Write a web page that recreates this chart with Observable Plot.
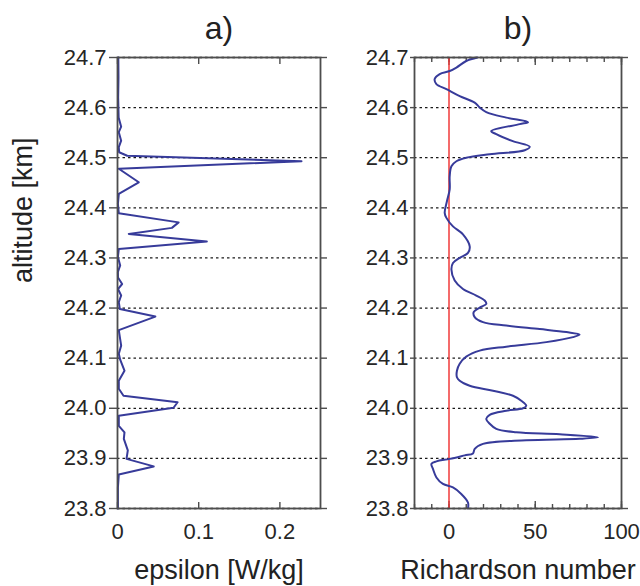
<!DOCTYPE html>
<html>
<head>
<meta charset="utf-8">
<script src="https://cdn.jsdelivr.net/npm/d3@7"></script>
<script src="https://cdn.jsdelivr.net/npm/@observablehq/plot@0.6"></script>
<style>
  html, body { margin: 0; padding: 0; background: #fff; }
  #wrap { position: relative; width: 640px; height: 586px; overflow: hidden; background: #fff; }
  #pa, #pb { position: absolute; top: 0; }
  #pa { left: 0; }
  #pb { left: 330px; }
</style>
</head>
<body>
<div id="wrap"><div id="pa"></div><div id="pb"></div></div>
<script>
// ---- data ----
const panelTitles = ["a)", "b)"];
const xLabels = ["epsilon [W/kg]", "Richardson number"];
const yLabel = "altitude [km]";
const yTicks = [23.8, 23.9, 24.0, 24.1, 24.2, 24.3, 24.4, 24.5, 24.6, 24.7];
const epsTicks = [0, 0.1, 0.2];
const riTicks = [0, 50, 100];
const riMinorTicks = [-20, -10, 0, 10, 20, 30, 40, 50, 60, 70, 80, 90, 100];

const epsAlt = [24.70, 24.66, 24.62, 24.58, 24.562, 24.551, 24.534, 24.521, 24.511, 24.504,
  24.493, 24.478, 24.451, 24.428, 24.408, 24.389, 24.371, 24.36, 24.348, 24.333,
  24.318, 24.302, 24.285, 24.272, 24.261, 24.248, 24.238, 24.225, 24.212, 24.198,
  24.183, 24.156, 24.142, 24.125, 24.109, 24.097, 24.075, 24.055, 24.039, 24.025,
  24.012, 24.001, 23.985, 23.965, 23.952, 23.939, 23.916, 23.899, 23.884, 23.868,
  23.842, 23.80];
const epsVal = [0.001, 0.0012, 0.0008, 0.0014, 0.0045, 0.0016, 0.0045, 0.0016, 0.002, 0.012,
  0.2266, 0.0016, 0.0262, 0.0016, 0.0005, 0.0016, 0.0753, 0.067, 0.0139, 0.110,
  0.0016, 0.0005, 0.0033, 0.0005, 0.0006, 0.0057, 0.0006, 0.0045, 0.0016, 0.0029,
  0.0466, 0.0016, 0.0029, 0.0045, 0.0016, 0.0033, 0.0086, 0.0016, 0.0016, 0.0074,
  0.074, 0.069, 0.0016, 0.0016, 0.0086, 0.0078, 0.0127, 0.0111, 0.0446, 0.0016,
  0.0005, 0.0005];

const riAlt = [24.70, 24.693, 24.68, 24.673, 24.667, 24.657, 24.647, 24.637, 24.623, 24.61,
  24.60, 24.591, 24.58, 24.571, 24.567, 24.553, 24.547, 24.533, 24.522, 24.515,
  24.507, 24.50, 24.493, 24.483, 24.463, 24.437, 24.413, 24.39, 24.38, 24.363,
  24.347, 24.323, 24.31, 24.30, 24.29, 24.277, 24.255, 24.238, 24.225, 24.215,
  24.208, 24.201, 24.192, 24.182, 24.172, 24.165, 24.158, 24.152, 24.147, 24.142,
  24.132, 24.123, 24.115, 24.103, 24.089, 24.075, 24.062, 24.055, 24.045, 24.035,
  24.025, 24.015, 24.005, 24.0, 23.995, 23.987, 23.979, 23.969, 23.959, 23.952,
  23.948, 23.942, 23.939, 23.936, 23.929, 23.919, 23.910, 23.906, 23.899, 23.894,
  23.889, 23.879, 23.862, 23.849, 23.842, 23.829, 23.812, 23.80];
const riVal = [16.5, 10, 4.3, 0.4, -5.4, -8.3, -7.3, -1.5, 6.2, 14.9,
  17.8, 21.6, 33.2, 45.8, 41, 24.5, 27.4, 37, 46.8, 43.9,
  23.6, 10, 4.3, 1.4, 0.4, 0.4, -1.2, -2.5, -1.5, 2.3,
  8.1, 12, 11, 6.2, 2.3, 1.4, 3.3, 8.1, 15.8, 20.7,
  21.6, 17.8, 14.3, 14.9, 19.7, 33.2, 52.6, 68, 75.7, 71.9,
  56.4, 33.2, 17.8, 10, 6.2, 4.6, 4.6, 6.2, 12, 25.5,
  37.1, 41.9, 44.8, 42.9, 33.2, 23.6, 21.6, 23.6, 27.4, 39,
  64.2, 86.4, 75.7, 44.8, 19.7, 14.9, 13.9, 9.1, 0.4, -7.3,
  -10.2, -9.3, -7.3, -3.5, 2.3, 7.1, 11, 11];
const riZero = [0];

// ---- drawing ----
const lineColor = "#373b9a";
const frameColor = "#4d4d4d";
const textColor = "#262626";
const font = "'Liberation Sans', Arial, Helvetica, sans-serif";

const epsData = epsAlt.map((a, i) => ({alt: a, v: epsVal[i]}));
const riData = riAlt.map((a, i) => ({alt: a, v: riVal[i]}));

function commonY(tickSize, tickPadding) {
  return [
    Plot.gridY(yTicks, {stroke: "#000", strokeOpacity: 0.9, strokeWidth: 1.3, strokeDasharray: "2.5,3"}),
    Plot.axisY({ticks: yTicks, tickSize, tickPadding, tickFormat: d3.format(".1f"), label: null, fontSize: 22, stroke: frameColor, strokeWidth: 1.4}),
    Plot.axisY({anchor: "right", ticks: yTicks, tickSize: 6, fill: "none", label: null, stroke: frameColor, strokeWidth: 1.4})
  ];
}

const pa = Plot.plot({
  width: 330, height: 586,
  marginLeft: 117, marginRight: 10, marginTop: 57, marginBottom: 78,
  style: {fontFamily: font, color: textColor, background: "transparent", overflow: "visible"},
  x: {domain: [0, 0.25]},
  y: {domain: [23.8, 24.7]},
  marks: [
    ...commonY(8, 3),
    Plot.axisX({anchor: "bottom", ticks: epsTicks, tickSize: -6, tickPadding: 21, tickFormat: d => String(d), label: null, fontSize: 22, stroke: frameColor, strokeWidth: 1.4}),
    Plot.axisX({anchor: "top", ticks: epsTicks, tickSize: -6, fill: "none", label: null, stroke: frameColor, strokeWidth: 1.4}),
    Plot.line(epsData, {x: "v", y: "alt", stroke: lineColor, strokeWidth: 2}),
    Plot.frame({stroke: frameColor, strokeWidth: 1.8}),
    Plot.text([panelTitles[0]], {text: d => d, frameAnchor: "top", dy: -29, lineAnchor: "middle", fontSize: 32, fill: "#222"}),
    Plot.text([xLabels[0]], {text: d => d, frameAnchor: "bottom", dy: 62, lineAnchor: "middle", fontSize: 27, fill: "#222"}),
    Plot.text([yLabel], {text: d => d, frameAnchor: "left", dx: -94, rotate: -90, lineAnchor: "middle", fontSize: 27, fill: "#222"})
  ]
});

const pb = Plot.plot({
  width: 310, height: 586,
  marginLeft: 84, marginRight: 19, marginTop: 57, marginBottom: 78,
  style: {fontFamily: font, color: textColor, background: "transparent", overflow: "visible"},
  x: {domain: [-20, 100]},
  y: {domain: [23.8, 24.7]},
  marks: [
    ...commonY(4, 2),
    Plot.axisX({anchor: "bottom", ticks: riTicks, tickSize: -7, tickPadding: 22, tickFormat: d => String(d), label: null, fontSize: 22, stroke: frameColor, strokeWidth: 1.4}),
    Plot.axisX({anchor: "bottom", ticks: riMinorTicks, tickSize: -4, fill: "none", label: null, stroke: frameColor, strokeWidth: 1.4}),
    Plot.axisX({anchor: "top", ticks: riTicks, tickSize: -7, fill: "none", label: null, stroke: frameColor, strokeWidth: 1.4}),
    Plot.axisX({anchor: "top", ticks: riMinorTicks, tickSize: -4, fill: "none", label: null, stroke: frameColor, strokeWidth: 1.4}),
    Plot.ruleX(riZero, {stroke: "#f03a3a", strokeWidth: 1.5}),
    Plot.line(riData, {x: "v", y: "alt", stroke: lineColor, strokeWidth: 2, curve: "catmull-rom"}),
    Plot.frame({stroke: frameColor, strokeWidth: 1.8}),
    Plot.text([panelTitles[1]], {text: d => d, frameAnchor: "top", dy: -29, lineAnchor: "middle", fontSize: 32, fill: "#222"}),
    Plot.text([xLabels[1]], {text: d => d, frameAnchor: "bottom", dy: 62, lineAnchor: "middle", fontSize: 27, fill: "#222"})
  ]
});

document.getElementById("pa").appendChild(pa);
document.getElementById("pb").appendChild(pb);
</script>
</body>
</html>
